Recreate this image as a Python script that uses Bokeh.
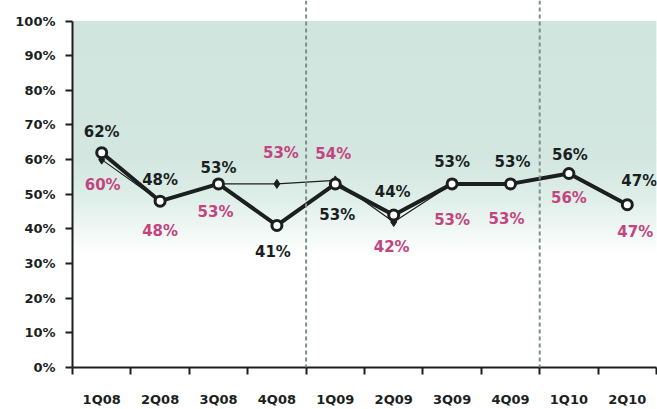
from bokeh.plotting import figure
from bokeh.models import Range1d, FixedTicker, PrintfTickFormatter, Span
from bokeh.embed import file_html
from bokeh.resources import INLINE
from bokeh.core.properties import value

# ---- data ----
quarters = ["1Q08", "2Q08", "3Q08", "4Q08", "1Q09", "2Q09", "3Q09", "4Q09", "1Q10", "2Q10"]
primary = [62, 48, 53, 41, 53, 44, 53, 53, 56, 47]
secondary = [60, 48, 53, 53, 54, 42, 53, 53, 56, 47]
y_ticks = [0, 10, 20, 30, 40, 50, 60, 70, 80, 90, 100]
divider_after = [4, 8]  # dashed separators after 4Q08 and 4Q09

# ---- styles (label placement in screen pixels) ----
primary_dx = [0, 0, 0, -4, 2, -1, 0, 2, 1, 12]
primary_dy = [-21, -21, -16, 27, 31, -23, -22, -22, -18, -24]
secondary_dx = [1, 0, -3, 4, -2, -2, 0, -4, 0, 8]
secondary_dy = [25, 30, 28, -31, -26, 25, 36, 35, 25, 27]

FONT = value("DejaVu Sans")
DARK = "#1b1f1f"
MAGENTA = "#c2457f"

xs = [i + 0.5 for i in range(len(quarters))]

p = figure(width=657, height=409,
           x_range=Range1d(0, len(quarters)), y_range=Range1d(0, 105.93),
           output_backend="svg", toolbar_location=None,
           min_border_left=72, min_border_right=1, min_border_top=0, min_border_bottom=34)
p.outline_line_color = None
p.grid.visible = False
p.background_fill_color = "white"
p.border_fill_color = "white"

# background gradient (style)
stops = [(100, (207, 229, 221)), (60, (211, 231, 224)), (50, (221, 237, 231)),
         (42, (235, 245, 241)), (35, (250, 253, 252)), (33, (255, 255, 255))]
bots, tops, cols = [], [], []
yv = 100.0
while yv > 33:
    mid = yv - 0.25
    for (a, ca), (b, cb) in zip(stops[:-1], stops[1:]):
        if b <= mid <= a:
            t = (a - mid) / (a - b)
            c = tuple(int(round(ca[k] + (cb[k] - ca[k]) * t)) for k in range(3))
            break
    bots.append(yv - 0.5)
    tops.append(min(100.0, yv + 0.4))
    cols.append("#%02x%02x%02x" % c)
    yv -= 0.5
# draw from bottom up so each strip overlaps the one below it
p.quad(left=0, right=len(quarters), bottom=bots[::-1], top=tops[::-1], fill_color=cols[::-1],
       line_color=None)

for d in divider_after:
    p.add_layout(Span(location=d, dimension="height", line_color="#7f8e8c",
                      line_width=2, line_dash="4 3"))

# secondary thin series
p.line(xs, secondary, line_color=DARK, line_width=1.2)
p.scatter(xs, secondary, marker="diamond", size=9, fill_color=DARK, line_color=DARK)

# primary thick series
p.line(xs, primary, line_color=DARK, line_width=4)
p.scatter(xs, primary, marker="circle", size=10, fill_color="white", line_color=DARK, line_width=3)

p.text(xs, primary, text=[f"{v}%" for v in primary], x_offset=primary_dx, y_offset=primary_dy,
       text_font=FONT, text_font_style="bold", text_font_size="15px", text_color=DARK,
       text_align="center", text_baseline="middle")
p.text(xs, secondary, text=[f"{v}%" for v in secondary], x_offset=secondary_dx, y_offset=secondary_dy,
       text_font=FONT, text_font_style="bold", text_font_size="15px", text_color=MAGENTA,
       text_align="center", text_baseline="middle")

# axes
ya = p.yaxis[0]
ya.ticker = FixedTicker(ticks=y_ticks, minor_ticks=[])
ya.formatter = PrintfTickFormatter(format="%d%%")
ya.bounds = (0, 100)
ya.axis_line_width = 2
ya.axis_line_color = DARK
ya.major_tick_out = 7
ya.major_tick_in = 0
ya.major_tick_line_width = 2
ya.major_tick_line_color = DARK
ya.minor_tick_out = 0
ya.minor_tick_in = 0
ya.major_label_standoff = 10
ya.major_label_text_font = "DejaVu Sans"
ya.major_label_text_font_style = "bold"
ya.major_label_text_font_size = "13px"
ya.major_label_text_color = DARK

xa = p.xaxis[0]
xa.ticker = FixedTicker(ticks=xs, minor_ticks=list(range(len(quarters) + 1)))
xa.major_label_overrides = {x: q for x, q in zip(xs, quarters)}
xa.axis_line_width = 2
xa.axis_line_color = DARK
xa.major_tick_out = 0
xa.major_tick_in = 0
xa.minor_tick_out = 7
xa.minor_tick_in = 0
xa.minor_tick_line_width = 2
xa.minor_tick_line_color = DARK
xa.major_label_standoff = 17
xa.major_label_text_font = "DejaVu Sans"
xa.major_label_text_font_style = "bold"
xa.major_label_text_font_size = "13px"
xa.major_label_text_color = DARK

open("out.html", "w").write(file_html(p, INLINE))
